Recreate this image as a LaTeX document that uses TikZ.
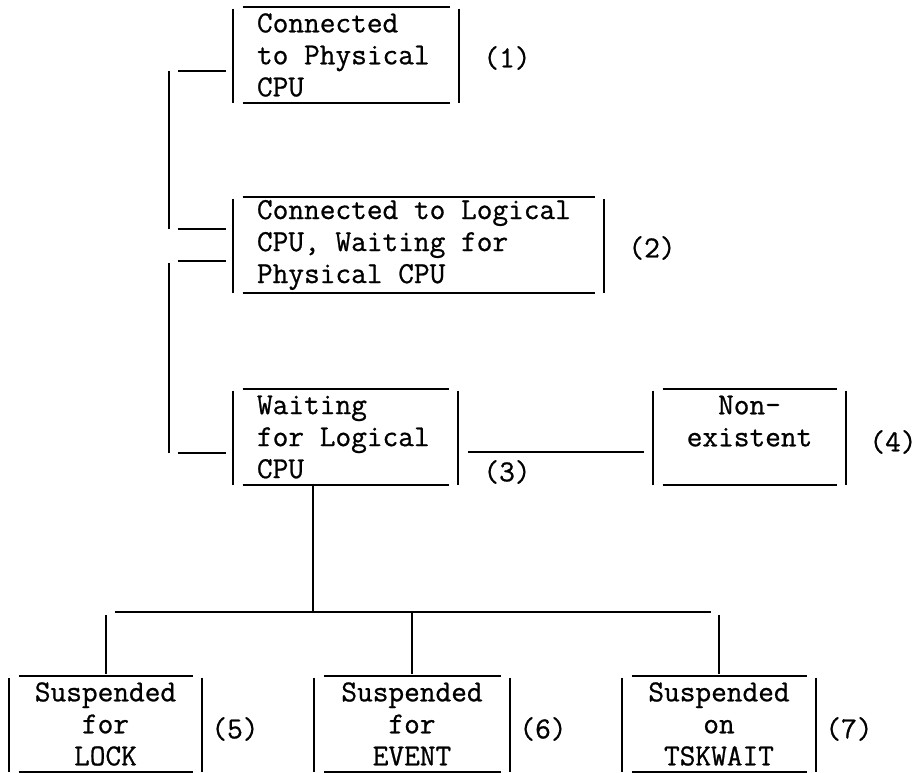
\documentclass[tikz,border=0pt]{standalone}
\usepackage{fontspec}
\setmonofont{Latin Modern Mono}[FakeBold=0.8]
\newcommand{\drawopenbox}[1]{%
  \draw[ln] ([shift={(0,2)}]#1.north west) -- (#1.south west);
  \draw[ln] ([shift={(0,2)}]#1.north east) -- (#1.south east);
  \draw[ln] ([shift={(10,0)}]#1.north west) -- ([shift={(-9,0)}]#1.north east);
  \draw[ln] ([shift={(10,0)}]#1.south west) -- ([shift={(-9,0)}]#1.south east);
}
\begin{document}
\begin{tikzpicture}[x=0.75pt,y=-0.75pt,
  ln/.style={line width=1.5pt, line cap=butt},
  txt/.style={font=\ttfamily\fontsize{22.86}{24}\selectfont},
  lbox/.style={txt, inner xsep=18pt, inner ysep=0pt, minimum height=72pt, align=flush left, text width=#1},
  cbox/.style={txt, inner sep=0pt, minimum height=72pt, minimum width=#1, align=flush center},
  lab/.style={txt, inner sep=0pt}
]
\fill[white] (0,0) rectangle (918,773);
\useasboundingbox (0,0) rectangle (918,773);

% boxes
\node[lbox=133.5pt] (b1) at (346,55) {Connected\\to Physical\\CPU};
\node[lbox=242.25pt] (b2) at (418.5,245) {Connected to Logical\\CPU, Waiting for\\Physical CPU};
\node[lbox=132.75pt] (b3) at (345.5,437) {Waiting\\for Logical\\CPU};
\node[cbox=144.75pt] (b4) at (749.5,437) {Non-\\existent\\\mbox{}};
\node[cbox=144.75pt] (b5) at (105.5,724) {Suspended\\for\\LOCK};
\node[cbox=146.25pt] (b6) at (412,724) {Suspended\\for\\EVENT};
\node[cbox=145.5pt] (b7) at (719,724) {Suspended\\on\\TSKWAIT};
\drawopenbox{b1}
\drawopenbox{b2}
\drawopenbox{b3}
\drawopenbox{b4}
\drawopenbox{b5}
\drawopenbox{b6}
\drawopenbox{b7}

% labels
\node[lab] (l1) at (507,58) {(1)};
\node[lab] (l2) at (652,248) {(2)};
\node[lab] (l3) at (507,472) {(3)};
\node[lab] (l4) at (893,442) {(4)};
\node[lab] (l5) at (235,729) {(5)};
\node[lab] (l6) at (543,729) {(6)};
\node[lab] (l7) at (849,729) {(7)};

% left brackets
\draw[ln] ([shift={(-55,16)}]b1.west) -- ([shift={(-7,16)}]b1.west);
\draw[ln] ([shift={(-64,16)}]b1.west) -- ([shift={(-64,-16)}]b2.west);
\draw[ln] ([shift={(-55,-16)}]b2.west) -- ([shift={(-7,-16)}]b2.west);
\draw[ln] ([shift={(-55,16)}]b2.west) -- ([shift={(-7,16)}]b2.west);
\draw[ln] ([shift={(-64,18)}]b2.west) -- ([shift={(-64,16)}]b3.west);
\draw[ln] ([shift={(-55,16)}]b3.west) -- ([shift={(-7,16)}]b3.west);

% waiting -> non-existent
\draw[ln] ([shift={(10,15)}]b3.east) -- ([shift={(-9,15)}]b4.west);

% tree
\coordinate (j) at (313,612);
\coordinate (d5) at (j -| b5.north);
\coordinate (d6) at (j -| b6.north);
\coordinate (d7) at (j -| b7.north);
\draw[ln] (b3.south -| j) -- (j);
\draw[ln] ([shift={(9,0)}]d5) -- ([shift={(-8,0)}]d7);
\draw[ln] ([shift={(0,3)}]d5) -- ([shift={(0,-2)}]b5.north);
\draw[ln] (d6) -- ([shift={(0,-2)}]b6.north);
\draw[ln] ([shift={(0,3)}]d7) -- ([shift={(0,-2)}]b7.north);
\end{tikzpicture}
\end{document}
